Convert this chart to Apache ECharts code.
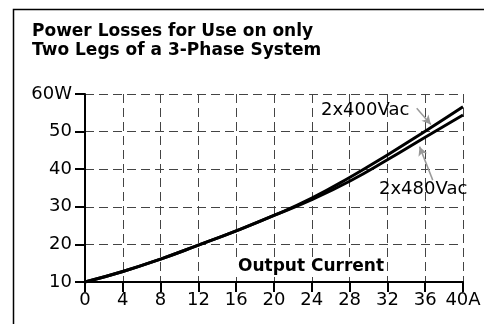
<!DOCTYPE html>
<html>
<head>
<meta charset="utf-8">
<script src="https://cdn.jsdelivr.net/npm/echarts@6/dist/echarts.min.js"></script>
<style>
  html, body { margin: 0; padding: 0; background: #fff; }
  #chart { width: 484px; height: 324px; }
</style>
</head>
<body>
<div id="chart"></div>
<script>
// Output current in amperes
const current = [0, 4, 8, 12, 16, 20, 24, 28, 32, 36, 40];
// Power losses in watts
const loss400 = [10, 12.8, 16.1, 19.8, 23.6, 27.7, 32.3, 37.8, 43.8, 50.1, 56.6];
const loss480 = [10, 12.8, 16.1, 19.8, 23.6, 27.7, 31.9, 36.8, 42.5, 48.5, 54.4];
const seriesNames = ['2x400Vac', '2x480Vac'];
const titleLines = ['Power Losses for Use on only', 'Two Legs of a 3-Phase System'];
const xAxisName = 'Output Current';

const pairs = (ys) => current.map((x, i) => [x, ys[i]]);

const chart = echarts.init(document.getElementById('chart'), null, { renderer: 'canvas' });

const labelFont = 'DejaVu Sans';
const gridDash = { color: '#444', width: 1, type: [9, 5] };

chart.setOption({
  animation: false,
  title: {
    text: titleLines.join('\n'),
    left: 32,
    top: 22,
    padding: 0,
    textStyle: { fontFamily: labelFont, fontWeight: 'bold', fontSize: 17, lineHeight: 19, color: '#000' }
  },
  grid: { left: 85, right: 21, top: 94, bottom: 42, containLabel: false },
  xAxis: {
    type: 'value',
    min: 0, max: 40, interval: 4,
    axisLine: { show: true, onZero: false, lineStyle: { color: '#000', width: 2 } },
    axisTick: { show: true, length: 10, lineStyle: { color: '#000', width: 2 } },
    splitLine: { show: true, lineStyle: gridDash },
    axisLabel: {
      margin: 9,
      fontFamily: labelFont, fontSize: 18, color: '#000',
      formatter: (v) => v === 40 ? v + 'A' : String(v)
    }
  },
  yAxis: {
    type: 'value',
    min: 10, max: 60, interval: 10,
    axisLine: { show: true, onZero: false, lineStyle: { color: '#000', width: 2 } },
    axisTick: { show: true, length: 10, lineStyle: { color: '#000', width: 2 } },
    splitLine: { show: true, lineStyle: gridDash },
    axisLabel: {
      margin: 13,
      fontFamily: labelFont, fontSize: 18, color: '#000',
      formatter: (v) => v === 60 ? v + 'W' : String(v)
    }
  },
  series: [
    {
      name: seriesNames[0],
      type: 'line',
      data: pairs(loss400),
      smooth: true,
      showSymbol: false,
      lineStyle: { color: '#000', width: 3 },
      z: 3,
      markLine: {
        silent: true,
        symbol: ['none', 'arrow'],
        symbolSize: [7, 9],
        label: { show: false },
        lineStyle: { color: '#999', width: 1.5, type: 'solid' },
        data: [
          [{ coord: [35.1, 56.2] }, { coord: [36.6, 51.9] }],
          [{ coord: [36.8, 37.1] }, { coord: [35.4, 46.0] }]
        ]
      }
    },
    {
      name: seriesNames[1],
      type: 'line',
      data: pairs(loss480),
      smooth: true,
      showSymbol: false,
      lineStyle: { color: '#000', width: 3 },
      z: 3
    }
  ],
  graphic: [
    {
      type: 'rect',
      shape: { x: 13.5, y: 9.5, width: 520, height: 400 },
      style: { fill: 'none', stroke: '#000', lineWidth: 1.5 },
      silent: true, z: 0
    },
    {
      type: 'text',
      x: 321, y: 110.5,
      style: { text: seriesNames[0], font: '18px "DejaVu Sans"', fill: '#000', verticalAlign: 'middle' },
      z: 10
    },
    {
      type: 'text',
      x: 379, y: 189,
      style: { text: seriesNames[1], font: '18px "DejaVu Sans"', fill: '#000', verticalAlign: 'middle' },
      z: 10
    },
    {
      type: 'text',
      x: 236, y: 267,
      style: {
        text: xAxisName, font: 'bold 17px "DejaVu Sans"', fill: '#000', verticalAlign: 'middle',
        backgroundColor: '#fff', padding: [2, 2, 1, 2]
      },
      z: 10
    }
  ]
});
</script>
</body>
</html>
